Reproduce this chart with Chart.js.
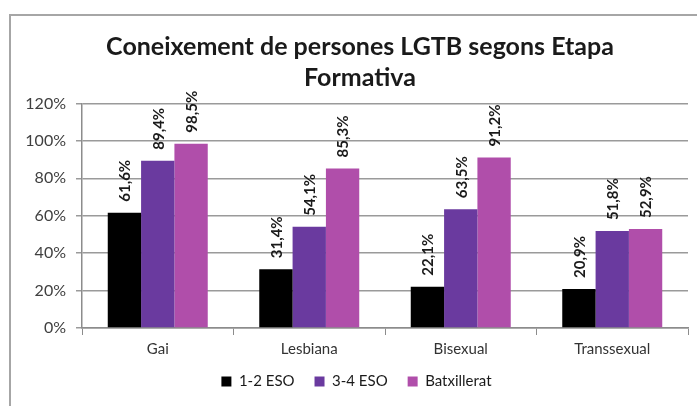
<!DOCTYPE html>
<html>
<head>
<meta charset="utf-8">
<script src="https://cdn.jsdelivr.net/npm/chart.js@4.4.0/dist/chart.umd.min.js"></script>
<style>
  html, body { margin: 0; padding: 0; background: #fff; overflow: hidden; width: 697px; height: 406px; }
  #frame { position: absolute; left: 9px; top: 14px; width: 720px; height: 420px;
           border-left: 2px solid #a6a6a6; border-top: 2px solid #a6a6a6; }
  #wrap { position: absolute; left: 11px; top: 16px; width: 700px; height: 392px; }
</style>
</head>
<body>
<div id="frame"></div>
<div id="wrap"><canvas id="c"></canvas></div>
<script>
// ---- data ----
const categories = ['Gai', 'Lesbiana', 'Bisexual', 'Transsexual'];
const seriesNames = ['1-2 ESO', '3-4 ESO', 'Batxillerat'];
const eso12 = [61.6, 31.4, 22.1, 20.9];
const eso34 = [89.4, 54.1, 63.5, 51.8];
const batxillerat = [98.5, 85.3, 91.2, 52.9];
const yTickValues = [0, 20, 40, 60, 80, 100, 120];
const titleLines = ['Coneixement de persones LGTB segons Etapa', 'Formativa'];

const colors = ['#000000', '#6a3a9f', '#b04eaa'];
const FONT = 'Lato, "Open Sans", sans-serif';

const fmt = v => v.toFixed(1).replace('.', ',') + '%';

const barLabels = {
  id: 'barLabels',
  afterDatasetsDraw(chart) {
    const ctx = chart.ctx;
    ctx.save();
    ctx.font = 'bold 15px ' + FONT;
    ctx.fillStyle = '#1a1a1a';
    ctx.textAlign = 'left';
    ctx.textBaseline = 'middle';
    chart.data.datasets.forEach((ds, di) => {
      const meta = chart.getDatasetMeta(di);
      meta.data.forEach((bar, i) => {
        ctx.save();
        ctx.translate(bar.x + 1, bar.y - 11);
        ctx.rotate(-Math.PI / 2);
        ctx.fillText(fmt(ds.data[i]), 0, 0);
        ctx.restore();
      });
    });
    ctx.restore();
  }
};

const shiftBoxes = {
  id: 'shiftBoxes',
  afterLayout(chart) {
    const lg = chart.legend;
    if (lg) { lg.top -= 9; lg.bottom -= 9; lg.left += 14; }
    const tb = chart.titleBlock;
    if (tb) { tb.left += 21; }
  }
};

new Chart(document.getElementById('c'), {
  type: 'bar',
  data: {
    labels: categories,
    datasets: [
      { label: seriesNames[0], data: eso12, backgroundColor: colors[0] },
      { label: seriesNames[1], data: eso34, backgroundColor: colors[1] },
      { label: seriesNames[2], data: batxillerat, backgroundColor: colors[2] }
    ]
  },
  options: {
    responsive: true,
    maintainAspectRatio: false,
    animation: false,
    devicePixelRatio: 1,
    layout: { padding: { left: 0, right: 23, top: 0, bottom: 0 } },
    datasets: { bar: { categoryPercentage: 0.66, barPercentage: 1.0 } },
    plugins: {
      title: {
        display: true,
        text: titleLines,
        color: '#1a1a1a',
        font: { family: FONT, size: 25, weight: 'bold', lineHeight: 1.25 },
        padding: { top: 15, bottom: 10 }
      },
      legend: {
        position: 'bottom',
        labels: {
          color: '#1a1a1a',
          font: { family: FONT, size: 15 },
          boxWidth: 10,
          boxHeight: 10,
          padding: 20
        }
      },
      tooltip: { enabled: false }
    },
    scales: {
      x: {
        grid: { display: true, drawOnChartArea: false, offset: true, color: '#8c8c8c', tickLength: 7, lineWidth: 1 },
        border: { display: true, color: '#8c8c8c', width: 1.5 },
        ticks: { color: '#333', font: { family: FONT, size: 15 }, padding: 5 }
      },
      y: {
        min: 0,
        max: 120,
        afterBuildTicks(scale) { scale.ticks = yTickValues.map(v => ({ value: v })); },
        afterFit(scale) { scale.width = 71; },
        grid: { color: '#9a9a9a', lineWidth: 1.5, tickLength: 6 },
        border: { display: true, color: '#8c8c8c', width: 1.5 },
        ticks: { color: '#404040', font: { family: FONT, size: 16 }, padding: 10, callback: v => v + '%' }
      }
    }
  },
  plugins: [barLabels, shiftBoxes]
});
</script>
</body>
</html>
